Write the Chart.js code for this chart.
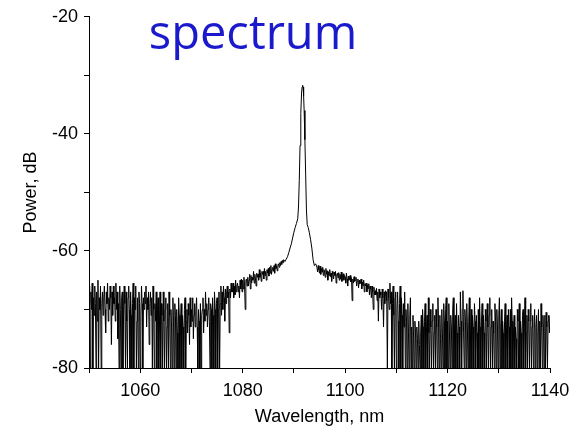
<!DOCTYPE html>
<html>
<head>
<meta charset="utf-8">
<script src="https://cdn.jsdelivr.net/npm/chart.js@4.4.1/dist/chart.umd.min.js"></script>
<style>
  html, body { margin: 0; padding: 0; background: #fff; }
  canvas { display: block; }
</style>
</head>
<body>
<canvas id="spectrum" width="582" height="431"></canvas>
<script>
// sampling grid of the noisy parts (nm)
const LEFT_START  = 1050;
const RIGHT_START = 1094.5;
const STEP        = 0.125;

// 1050 .. 1088 nm, power in dB (8 samples per nm, one row per nm)
const leftDb = [
  -66, -69, -80, -67, -70, -65.5, -80, -68,
  -71, -66, -69, -80, -67, -72, -65, -80,
  -68, -70, -66, -80, -69, -67, -71, -68,
  -66, -70, -74, -67, -69, -65.5, -72, -68,
  -70, -66, -68, -76, -67, -71, -66, -69,
  -68, -72, -65.5, -70, -67, -75, -69, -80,
  -66, -70, -80, -68, -67, -80, -71, -66,
  -69, -80, -67, -72, -80, -68, -66, -70,
  -80, -67, -71, -80, -69, -65.5, -80, -68,
  -70, -66, -80, -72, -68, -80, -67, -69,
  -80, -71, -66, -69, -80, -68, -70, -67,
  -69, -66, -73, -68, -70, -67, -76, -69,
  -67, -71, -68, -80, -66, -70, -80, -69,
  -72, -67, -80, -70, -68, -80, -73, -67,
  -80, -69, -71, -80, -67, -72, -80, -70,
  -68, -80, -73, -69, -80, -67, -71, -80,
  -70, -73, -80, -68, -72, -80, -69, -71,
  -80, -70, -74, -80, -68, -71, -80, -72,
  -69, -80, -71, -73, -80, -70, -68, -80,
  -72, -70, -74, -69, -71, -76, -68, -73,
  -70, -72, -68, -75, -71, -69, -73, -70,
  -68, -73, -80, -70, -72, -80, -69, -80,
  -71, -70, -68, -74, -70, -72, -67, -71,
  -69, -73, -70, -68, -72, -80, -69, -70,
  -80, -68, -71, -80, -67, -70, -80, -69,
  -68, -80, -70, -67, -80, -69, -66, -71,
  -67, -70, -66, -68, -72, -66.5, -69, -67,
  -66, -68, -67, -74, -66.5, -68, -65.5, -67,
  -67, -65.5, -68, -66, -67.5, -65, -67, -66,
  -65.5, -67, -66, -68, -65, -66.5, -64.8, -67,
  -65, -66.5, -64.5, -66, -70, -65, -64.8, -66,
  -64.5, -66, -65, -64, -66.5, -64.2, -65.5, -64.5,
  -65, -63.5, -65.5, -64, -64.8, -66, -63.8, -64.5,
  -64, -65, -63.2, -64.5, -63.8, -65.2, -63.5, -64,
  -63.5, -64.8, -63, -64.2, -63.5, -65, -63.2, -63.8,
  -63, -64.3, -62.8, -63.8, -62.5, -64, -63.2, -62.8,
  -63.5, -62.5, -63.8, -62.2, -63, -62.6, -63.4, -62.4,
  -62.2, -62.8, -62, -62.5, -61.8, -62.3, -61.6, -62,
  -61.5
];

// laser line around 1091.7 nm
const peakWl = [
  1088.25, 1088.5, 1088.75, 1089.0, 1089.25, 1089.5, 1089.75, 1090.0,
  1090.25, 1090.5, 1090.75, 1090.9, 1091.05, 1091.2, 1091.35, 1091.5,
  1091.6, 1091.7, 1091.8, 1091.9, 1092.0, 1092.15, 1092.3, 1092.45,
  1092.6, 1092.8, 1093.0, 1093.25, 1093.5, 1093.75, 1094.0, 1094.25
];
const peakDb = [
  -61.8, -61.4, -61, -60.3, -59.5, -58.8, -57.8, -56.8,
  -56, -55.3, -54.5, -52.5, -48, -42, -36.5, -33,
  -32, -31.7, -32, -33.5, -36, -41, -47, -53,
  -55.5, -56, -56.8, -58, -59.5, -61.5, -62.5, -62.2
];

// 1094.5 .. 1140 nm (first row is 1094.5 .. 1094.875)
const rightDb = [
  -62.8, -63.6, -62.5, -63.2,
  -63.8, -62.6, -64, -63, -63.6, -62.8, -64.2, -63.2,
  -63.6, -64.5, -63, -64, -63.4, -65, -63.6, -64.2,
  -63.2, -64.4, -63.8, -65.2, -63.5, -64, -64.8, -63.6,
  -64.2, -63.5, -65.5, -64, -63.8, -64.6, -63.7, -65,
  -64, -64.8, -63.6, -65.2, -64.3, -63.9, -65, -64.2,
  -64.5, -65.5, -63.8, -64.8, -66, -64.3, -65, -64.6,
  -64.2, -65.3, -64.6, -68.5, -64.8, -65.5, -64.4, -65.2,
  -65, -64.5, -66, -65.2, -64.8, -66.3, -65, -65.6,
  -65.5, -64.8, -66.5, -65.3, -65.9, -65, -67, -65.6,
  -66, -65.5, -67, -65.8, -66.4, -65.6, -67.5, -66,
  -66.5, -68, -66, -67, -70, -66.2, -67.5, -66.8,
  -67.5, -66.4, -68.5, -67, -72, -66.5, -68, -67,
  -67.5, -70, -66.5, -68, -73, -67, -69, -66.8,
  -67, -68.5, -80, -66.5, -68, -70, -65.5, -69,
  -67, -80, -69, -66, -71, -80, -68, -67,
  -80, -70, -67, -72, -80, -69, -66, -80,
  -68, -71, -80, -69, -73, -67, -80, -70,
  -72, -80, -69, -74, -80, -71, -68, -80,
  -73, -80, -71, -75, -80, -72, -74, -80,
  -73, -75, -80, -72, -76, -80, -74, -71,
  -80, -70, -73, -80, -72, -69, -80, -74,
  -71, -80, -68, -74, -80, -70, -73, -80,
  -72, -69, -80, -74, -71, -80, -70, -73,
  -80, -68, -73, -80, -71, -75, -80, -70,
  -74, -80, -69, -72, -80, -70, -68, -80,
  -72, -80, -69, -74, -80, -71, -73, -80,
  -70, -68, -80, -73, -71, -80, -69, -74,
  -80, -71, -73, -80, -67, -72, -80, -70,
  -66.8, -74, -80, -70, -72, -80, -69, -73,
  -80, -72, -68, -80, -74, -70, -80, -71,
  -73, -80, -69, -72, -80, -71, -74, -80,
  -70, -80, -68, -73, -80, -72, -69, -80,
  -71, -74, -80, -70, -72, -80, -69, -73,
  -80, -71, -68, -80, -73, -70, -80, -72,
  -74, -80, -69, -72, -80, -70, -73, -80,
  -71, -68, -80, -73, -70, -80, -72, -74,
  -80, -72, -69, -80, -74, -71, -80, -70,
  -73, -80, -70, -80, -68, -72, -80, -74,
  -71, -80, -73, -75, -80, -70, -72, -80,
  -69, -80, -72, -74, -80, -71, -70, -80,
  -73, -68, -80, -74, -71, -80, -70, -72,
  -80, -72, -69, -80, -73, -71, -80, -74,
  -70, -80, -73, -71, -80, -74, -70, -80,
  -72, -80, -69, -73, -80, -71, -74, -80,
  -71, -80, -70.5, -73, -80, -72, -71, -74,
  -71
];

const xTicks = [1060, 1080, 1100, 1120, 1140];
const yTicks = [-80, -60, -40, -20];

const points = []
  .concat(leftDb.map((v, i) => ({ x: LEFT_START + i * STEP, y: v })))
  .concat(peakDb.map((v, i) => ({ x: peakWl[i], y: v })))
  .concat(rightDb.map((v, i) => ({ x: RIGHT_START + i * STEP, y: v })));

// big blue title sitting inside the plot
const titlePlugin = {
  id: 'spectrumTitle',
  afterDraw(chart) {
    const ctx = chart.ctx;
    ctx.save();
    ctx.font = '47px "Open Sans"';
    ctx.fillStyle = '#1a1acc';
    ctx.textAlign = 'center';
    ctx.textBaseline = 'alphabetic';
    ctx.fillText('spectrum', 253, 49);
    ctx.restore();
  }
};

const tickFont = { family: 'Liberation Sans', size: 18 };

new Chart(document.getElementById('spectrum').getContext('2d'), {
  type: 'line',
  data: {
    datasets: [{
      data:        points,
      borderColor: '#000',
      borderWidth: 1,
      pointRadius: 0,
      tension:     0,
      fill:        false,
    }]
  },
  options: {
    responsive: false,
    animation: false,
    devicePixelRatio: 1,
    layout: { padding: { top: 14, right: 32, left: 0, bottom: 0 } },
    scales: {
      x: {
        type: 'linear',
        min: 1050,
        max: 1140,
        afterFit: s => { s.height = 63; },
        border: { display: true, color: '#000', width: 1 },
        grid: { drawOnChartArea: false, drawTicks: true, tickLength: 5, color: '#000' },
        ticks: {
          stepSize: 10,
          autoSkip: false,
          maxRotation: 0,
          padding: 7,
          color: '#000',
          font: tickFont,
          callback: v => xTicks.includes(v) ? String(v) : ''
        },
        title: {
          display: true,
          text: 'Wavelength, nm',
          color: '#000',
          font: tickFont,
          padding: { top: 0, bottom: 3 }
        }
      },
      y: {
        min: -80,
        max: -20,
        afterFit: s => { s.width = 89; },
        border: { display: true, color: '#000', width: 1 },
        grid: { drawOnChartArea: false, drawTicks: true, tickLength: 5, color: '#000' },
        ticks: {
          stepSize: 10,
          autoSkip: false,
          padding: 6,
          color: '#000',
          font: tickFont,
          callback: v => yTicks.includes(v) ? String(v) : ''
        },
        title: {
          display: true,
          text: 'Power, dB',
          color: '#000',
          font: tickFont,
          padding: { top: 20, bottom: 0 }
        }
      }
    },
    plugins: {
      legend: { display: false },
      tooltip: { enabled: false }
    }
  },
  plugins: [titlePlugin]
});
</script>
</body>
</html>
